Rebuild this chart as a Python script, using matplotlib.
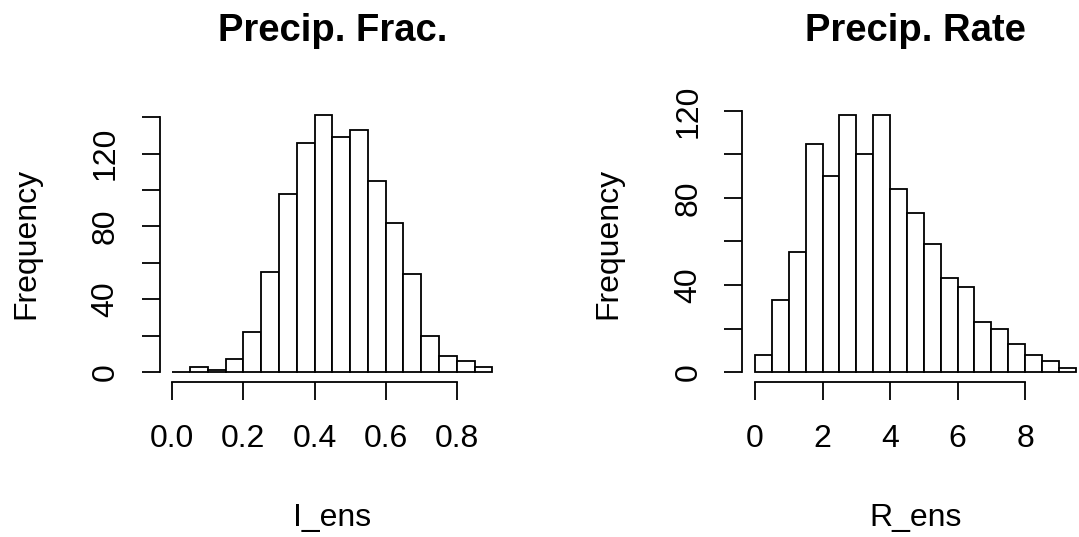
import matplotlib
matplotlib.use("Agg")
import matplotlib.pyplot as plt
import numpy as np

plt.rcParams['font.family'] = ['Liberation Sans', 'DejaVu Sans']

# ---- data ----
frac_bin_left = [0.00, 0.05, 0.10, 0.15, 0.20, 0.25, 0.30, 0.35, 0.40, 0.45,
                 0.50, 0.55, 0.60, 0.65, 0.70, 0.75, 0.80, 0.85]
frac_counts = [0, 3, 1, 7, 22, 55, 98, 126, 141, 129,
               133, 105, 82, 54, 20, 9, 6, 3]
frac_width = 0.05
frac_xticks = [0.0, 0.2, 0.4, 0.6, 0.8]
frac_xticklabels = ["0.0", "0.2", "0.4", "0.6", "0.8"]
frac_yticks = [0, 20, 40, 60, 80, 100, 120, 140]
frac_yticklabels = ["0", "", "40", "", "80", "", "120", ""]

rate_bin_left = [0.0, 0.5, 1.0, 1.5, 2.0, 2.5, 3.0, 3.5, 4.0, 4.5,
                 5.0, 5.5, 6.0, 6.5, 7.0, 7.5, 8.0, 8.5, 9.0]
rate_counts = [8, 33, 55, 105, 90, 118, 100, 118, 84, 73,
               59, 43, 39, 23, 20, 13, 8, 5, 2]
rate_width = 0.5
rate_xticks = [0, 2, 4, 6, 8]
rate_xticklabels = ["0", "2", "4", "6", "8"]
rate_yticks = [0, 20, 40, 60, 80, 100, 120]
rate_yticklabels = ["0", "", "40", "", "80", "", "120"]

W, H = 1079, 537
fig = plt.figure(figsize=(W / 100, H / 100), dpi=100)
fig.patch.set_facecolor("white")

FS = 23
TFS = 27.5


def px_axes(x0, y0, x1, y1):
    return fig.add_axes([x0 / W, 1 - y1 / H, (x1 - x0) / W, (y1 - y0) / H])


def r_hist(ax, left, counts, width, xticks, xtl, yticks, ytl, title, xlabel):
    ax.bar(left, counts, width=width, align='edge', facecolor='white',
           edgecolor='black', linewidth=1.3)
    x0, x1 = left[0], left[-1] + width
    dx = (x1 - x0) * 0.04
    ax.set_xlim(x0 - dx, x1 + dx)
    ymax = max(counts)
    dy = ymax * 0.04
    ax.set_ylim(-dy, ymax + dy)
    for s in ['top', 'right']:
        ax.spines[s].set_visible(False)
    ax.spines['left'].set_bounds(yticks[0], yticks[-1])
    ax.spines['bottom'].set_bounds(xticks[0], xticks[-1])
    for s in ['left', 'bottom']:
        ax.spines[s].set_linewidth(1.3)
    ax.set_xticks(xticks)
    ax.set_xticklabels(xtl)
    ax.set_yticks(yticks)
    ax.set_yticklabels(ytl, rotation=90, va='center')
    ax.tick_params(axis='both', direction='out', length=13, width=1.3,
                   labelsize=FS, colors='black')
    ax.tick_params(axis='x', pad=17)
    ax.tick_params(axis='y', pad=15)
    ax.set_title(title, fontsize=TFS, fontweight='bold', pad=46)
    ax.set_xlabel(xlabel, fontsize=FS)
    ax.set_ylabel("Frequency", fontsize=FS)
    ax.xaxis.set_label_coords(0.5, -0.49)
    ax.xaxis.label.set_va('center')
    ax.yaxis.set_label_coords(-0.385, 0.5)
    ax.yaxis.label.set_va('center')
    ax.patch.set_alpha(0)


ax1 = px_axes(159.5, 105, 505.1, 382.3)
r_hist(ax1, frac_bin_left, frac_counts, frac_width, frac_xticks,
       frac_xticklabels, frac_yticks, frac_yticklabels,
       "Precip. Frac.", "I_ens")

ax2 = px_axes(742.2, 105, 1088.5, 382.3)
r_hist(ax2, rate_bin_left, rate_counts, rate_width, rate_xticks,
       rate_xticklabels, rate_yticks, rate_yticklabels,
       "Precip. Rate", "R_ens")

fig.savefig("out.png", dpi=100)
